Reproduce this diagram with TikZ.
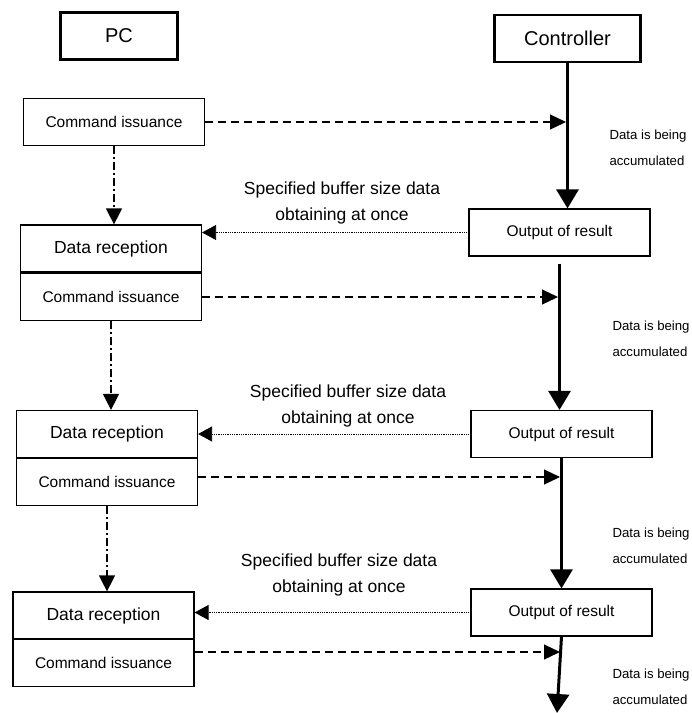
\documentclass[tikz,border=0pt]{standalone}
\usepackage{fontspec}
\setmainfont{Liberation Sans}
\usetikzlibrary{arrows.meta}

\begin{document}
\begin{tikzpicture}[x=1pt, y=-1pt,
    headbox/.style={draw, line width=2.5pt, minimum height=47pt, inner sep=0pt, font=\fontsize{20}{24}\selectfont},
    stepbox/.style={draw, line width=1.2pt, minimum width=181pt, minimum height=47pt, inner sep=0pt},
    cmdtext/.style={font=\fontsize{15.5}{18}\selectfont},
    recvtext/.style={font=\fontsize{17.5}{21}\selectfont},
    cmdarrow/.style={-{Triangle[length=16pt, width=15pt]}, line width=1.2pt, dash pattern=on 8pt off 5pt},
    flowarrow/.style={-{Triangle[length=16pt, width=16pt]}, line width=1.2pt, dash pattern=on 8pt off 3pt on 2pt off 3pt},
    getarrow/.style={-{Triangle[length=14pt, width=15pt]}, line width=0.8pt, dash pattern=on 0.8pt off 1pt},
    busline/.style={-{Triangle[length=19pt, width=22pt]}, line width=3pt},
    buflabel/.style={align=center, font=\fontsize{17.5}{26}\selectfont},
    acclabel/.style={anchor=west, align=left, font=\fontsize{13.2}{26}\selectfont}
]
    \useasboundingbox (0,0) rectangle (692,713);

    % --- intestazioni ---
    \node[headbox, minimum width=117pt] (PC) at (119, 36) {PC};
    \node[headbox, minimum width=146pt] (Ctrl) at (567.5, 38.5) {Controller};

    % --- lato PC ---
    \node[stepbox, cmdtext] (CI1) at (114, 122) {Command issuance};

    \node[stepbox, recvtext] (DR1) at (111, 248.5) {Data reception};
    \node[stepbox, cmdtext] (CI2) at (111, 297) {Command issuance};

    \node[stepbox, recvtext] (DR2) at (107, 434) {Data reception};
    \node[stepbox, cmdtext] (CI3) at (107, 482) {Command issuance};

    \node[stepbox, recvtext] (DR3) at (103.5, 615.5) {Data reception};
    \node[stepbox, cmdtext] (CI4) at (103.5, 663) {Command issuance};

    % --- lato Controller ---
    \node[stepbox, cmdtext] (Out1) at (559.5, 232.5) {Output of result};
    \node[stepbox, cmdtext] (Out2) at (561.5, 434) {Output of result};
    \node[stepbox, cmdtext] (Out3) at (561.5, 612.5) {Output of result};
    \coordinate (End) at (557, 713);

    % linea di accumulo dati
    \draw[busline] (Ctrl.south) -- (Ctrl.south |- Out1.north);
    \draw[busline] ([yshift=-7pt]Out1.south) -- (Out1.south |- Out2.north);
    \draw[busline] (Out2.south) -- (Out2.south |- Out3.north);
    \draw[busline] (Out3.south) -- (End);

    % comandi PC -> Controller
    \draw[cmdarrow, shorten >=1.5pt] (CI1.east) -- (CI1.east -| Ctrl.south);
    \draw[cmdarrow, shorten >=1.5pt] (CI2.east) -- (CI2.east -| Out1.south);
    \draw[cmdarrow, shorten >=1.5pt] ([yshift=5pt]CI3.east) -- ([yshift=5pt]CI3.east -| Out2.south);
    \draw[cmdarrow, shorten >=1.5pt] ([yshift=11pt]CI4.east) -- ([yshift=11pt]CI4.east -| Out3.south);

    % sequenza lato PC
    \draw[flowarrow] (CI1.south) -- (CI1.south |- DR1.north);
    \draw[flowarrow] (CI2.south) -- (CI2.south |- DR2.north);
    \draw[flowarrow] (CI3.south) -- (CI3.south |- DR3.north);

    % risultati Controller -> PC
    \draw[getarrow] (Out1.west) -- (Out1.west -| DR1.east);
    \draw[getarrow] (Out2.west) -- (Out2.west -| DR2.east);
    \draw[getarrow] (Out3.west) -- (Out3.west -| DR3.east);

    % etichette
    \node[buflabel] (buf1) at (342, 202.5) {Specified buffer size data\\obtaining at once};
    \node[buflabel] (buf2) at (348, 405.5) {Specified buffer size data\\obtaining at once};
    \node[buflabel] (buf3) at (339, 575) {Specified buffer size data\\obtaining at once};

    \node[acclabel] (acc1) at (606, 148) {Data is being\\accumulated};
    \node[acclabel] (acc2) at (609, 339) {Data is being\\accumulated};
    \node[acclabel] (acc3) at (609, 546) {Data is being\\accumulated};
    \node[acclabel] (acc4) at (609, 686.5) {Data is being\\accumulated};
\end{tikzpicture}
\end{document}
